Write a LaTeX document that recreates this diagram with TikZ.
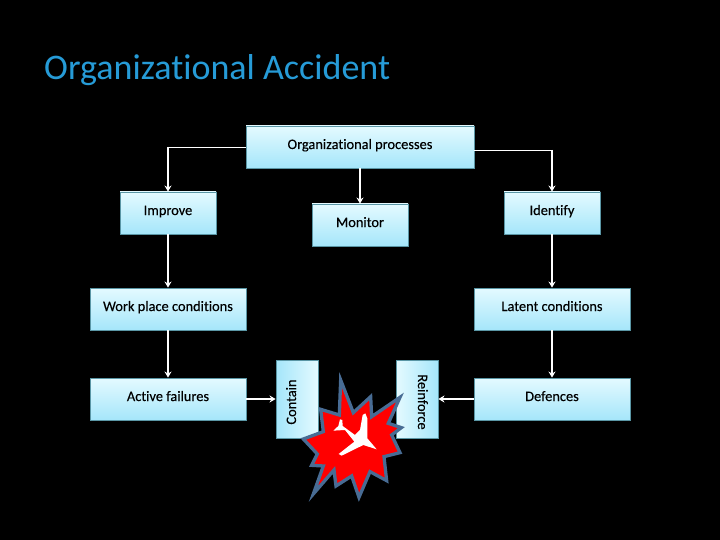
\documentclass[tikz,border=0pt]{standalone}
\usepackage{fontspec}
\setmainfont{Carlito}[Ligatures=NoCommon]
\newfontfamily\boxfont{Carlito}[Ligatures=NoCommon,FakeBold=0.25]
\usetikzlibrary{arrows.meta}
\definecolor{boxtop}{RGB}{228,250,255}
\definecolor{boxbottom}{RGB}{165,230,250}
\definecolor{boxline}{RGB}{90,150,165}
\definecolor{titleblue}{RGB}{38,155,215}
\definecolor{starline}{RGB}{72,108,148}
\begin{document}
\begin{tikzpicture}
  [
  x=1pt, y=-1pt,
  procbox/.style={draw=boxline, line width=0.9pt, top color=boxtop, bottom color=boxbottom, text=black,
      align=center, inner sep=0pt, font=\boxfont\fontsize{14.4}{16}\selectfont, text height=10pt, text depth=6pt},
  sidebox/.style={procbox, minimum width=78pt, minimum height=42pt, text height=7pt, text depth=9pt},
  link/.style={draw=white, -{Stealth[length=6pt,width=7pt]}, line width=1.4pt},
  thinlink/.style={draw=white, line width=0.9pt}
  ]
  \fill[black] (0,0) rectangle (720,540);
  \useasboundingbox (0,0) rectangle (720,540);

  \node[anchor=west, inner sep=0pt, text=titleblue, font=\fontsize{36}{40}\selectfont] (title) at (44,70) {Organizational Accident};

  \node[procbox, minimum width=228pt, minimum height=42pt] (orgproc) at (360,147) {Organizational processes};
  \node[procbox, minimum width=96pt, minimum height=42pt] (improve) at (168,213) {Improve};
  \node[procbox, minimum width=96pt, minimum height=42pt] (monitor) at (360,225) {Monitor};
  \node[procbox, minimum width=96pt, minimum height=42pt] (identify) at (552,213) {Identify};
  \node[procbox, minimum width=156pt, minimum height=42pt] (workplace) at (168,309) {Work place conditions};
  \node[procbox, minimum width=156pt, minimum height=42pt] (latent) at (552,309) {Latent conditions};
  \node[procbox, minimum width=156pt, minimum height=42pt] (active) at (168,399) {Active failures};
  \node[procbox, minimum width=156pt, minimum height=42pt] (defences) at (552,399) {Defences};
  \node[sidebox, rotate=90, shading angle=-90] (contain) at (297,399) {Contain\hspace*{6pt}};
  \node[sidebox, rotate=-90, shading angle=90] (reinforce) at (417,399) {\hspace*{6pt}Reinforce};

  \coordinate (leftcorner) at (168,147);
  \coordinate (rightstart) at (474,150);
  \coordinate (rightcorner) at (552,150);

  \draw[thinlink] (orgproc.west) -- (leftcorner);
  \draw[link] (leftcorner) -- (improve.north);
  \draw[thinlink] (rightstart) -- (rightcorner);
  \draw[link] (rightcorner) -- (identify.north);
  \draw[link] (orgproc.south) -- (monitor.north);
  \draw[link] (improve.south) -- (workplace.north);
  \draw[link] (identify.south) -- (latent.north);
  \draw[link] (workplace.south) -- (active.north);
  \draw[link] (latent.south) -- (defences.north);
  \draw[link] (active.east) -- (contain.north);
  \draw[link] (defences.west) -- (reinforce.north);

  % burst and aeroplane
  \begin{scope}[shift={(260,340)}, scale=0.3333]
    \draw[fill=red, draw=starline, line width=3.3pt, miter limit=10]
      (242,120) -- (280,218) -- (332,170) -- (335,230) -- (420,172) -- (385,250) -- (424,263)
      -- (395,285) -- (420,338) -- (372,350) -- (380,422) -- (330,395) -- (297,472) -- (275,408)
      -- (228,438) -- (222,390) -- (160,462) -- (190,378) -- (155,376) -- (172,342) -- (130,297)
      -- (190,275) -- (182,208) -- (238,225) -- cycle;
    \fill[white]
      (308,225) -- (316,220) -- (322,235) -- (322,295) -- (350,328) -- (310,315) -- (245,347)
      -- (236,342) -- (283,305) -- (255,270) -- (220,272) -- (235,258) -- (240,238) -- (247,240)
      -- (248,258) -- (285,285) -- (300,270) -- cycle;
  \end{scope}
\end{tikzpicture}
\end{document}
